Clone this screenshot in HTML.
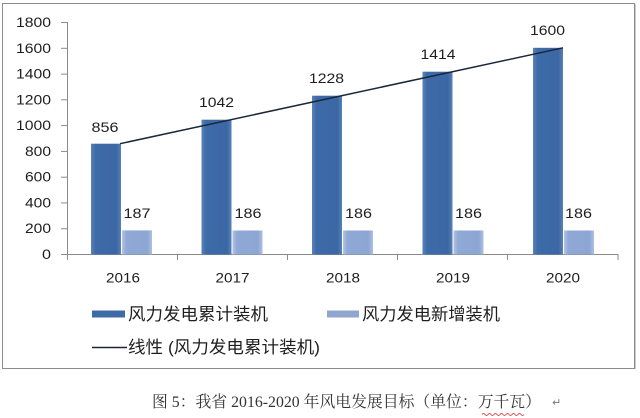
<!DOCTYPE html>
<html>
<head>
<meta charset="utf-8">
<style>
  html,body{margin:0;padding:0;background:#fff;}
  body{width:640px;height:418px;overflow:hidden;}
  svg{display:block;}
</style>
</head>
<body>
<svg width="640" height="418" viewBox="0 0 640 418" xmlns="http://www.w3.org/2000/svg">
  <defs>
    <linearGradient id="gd" x1="0" y1="0" x2="1" y2="0">
      <stop offset="0" stop-color="#5b82b9"/>
      <stop offset="0.15" stop-color="#3d6ba8"/>
      <stop offset="0.85" stop-color="#3b68a5"/>
      <stop offset="1" stop-color="#5a80b6"/>
    </linearGradient>
    <linearGradient id="gl" x1="0" y1="0" x2="1" y2="0">
      <stop offset="0" stop-color="#b3c4e4"/>
      <stop offset="0.15" stop-color="#8fa8d5"/>
      <stop offset="0.85" stop-color="#8da6d3"/>
      <stop offset="1" stop-color="#b0c1e2"/>
    </linearGradient>
  </defs>

  <!-- chart frame -->
  <rect x="2.5" y="3.5" width="632" height="365" fill="#fff" stroke="#8c8c8c" stroke-width="1"/>
  <line x1="635.5" y1="4" x2="635.5" y2="369" stroke="#c8c8c8" stroke-width="1"/>

  <!-- axes -->
  <g stroke="#8a8a8a" stroke-width="1">
    <line x1="67.5" y1="22" x2="67.5" y2="254.5"/>
    <line x1="67" y1="254.5" x2="618.5" y2="254.5"/>
    <line x1="61" y1="22.5" x2="67" y2="22.5"/>
    <line x1="61" y1="48.3" x2="67" y2="48.3"/>
    <line x1="61" y1="74.1" x2="67" y2="74.1"/>
    <line x1="61" y1="99.8" x2="67" y2="99.8"/>
    <line x1="61" y1="125.6" x2="67" y2="125.6"/>
    <line x1="61" y1="151.4" x2="67" y2="151.4"/>
    <line x1="61" y1="177.2" x2="67" y2="177.2"/>
    <line x1="61" y1="202.9" x2="67" y2="202.9"/>
    <line x1="61" y1="228.7" x2="67" y2="228.7"/>
    <line x1="61" y1="254.5" x2="67" y2="254.5"/>
    <line x1="67.5" y1="254" x2="67.5" y2="260"/>
    <line x1="177.5" y1="254" x2="177.5" y2="260"/>
    <line x1="287.5" y1="254" x2="287.5" y2="260"/>
    <line x1="397.5" y1="254" x2="397.5" y2="260"/>
    <line x1="507.5" y1="254" x2="507.5" y2="260"/>
    <line x1="618" y1="254" x2="618" y2="260"/>
  </g>

  <!-- y labels -->
  <g font-family="Liberation Sans, sans-serif" font-size="14" fill="#1e1e1e" text-anchor="end">
    <text x="51" y="27" textLength="35" lengthAdjust="spacingAndGlyphs">1800</text>
    <text x="51" y="52.8" textLength="35" lengthAdjust="spacingAndGlyphs">1600</text>
    <text x="51" y="78.6" textLength="35" lengthAdjust="spacingAndGlyphs">1400</text>
    <text x="51" y="104.3" textLength="35" lengthAdjust="spacingAndGlyphs">1200</text>
    <text x="51" y="130.1" textLength="35" lengthAdjust="spacingAndGlyphs">1000</text>
    <text x="51" y="155.9" textLength="26" lengthAdjust="spacingAndGlyphs">800</text>
    <text x="51" y="181.7" textLength="26" lengthAdjust="spacingAndGlyphs">600</text>
    <text x="51" y="207.4" textLength="26" lengthAdjust="spacingAndGlyphs">400</text>
    <text x="51" y="233.2" textLength="26" lengthAdjust="spacingAndGlyphs">200</text>
    <text x="51" y="259" textLength="9" lengthAdjust="spacingAndGlyphs">0</text>
  </g>

  <!-- bars: cumulative -->
  <g fill="url(#gd)">
    <rect x="91" y="143.7" width="30" height="110.8"/>
    <rect x="201.5" y="119.7" width="30" height="134.8"/>
    <rect x="312" y="95.7" width="30" height="158.8"/>
    <rect x="422.5" y="71.7" width="30" height="182.8"/>
    <rect x="533" y="47.8" width="30" height="206.7"/>
  </g>
  <!-- bars: new -->
  <g fill="url(#gl)">
    <rect x="122" y="230.4" width="30" height="24.1"/>
    <rect x="232.5" y="230.5" width="30" height="24"/>
    <rect x="343" y="230.5" width="30" height="24"/>
    <rect x="453.5" y="230.5" width="30" height="24"/>
    <rect x="564" y="230.5" width="30" height="24"/>
  </g>

  <!-- trend line -->
  <line x1="120" y1="143.7" x2="563" y2="47.8" stroke="#1c2638" stroke-width="1.5"/>

  <!-- value labels -->
  <g font-family="Liberation Sans, sans-serif" font-size="14" fill="#1e1e1e" text-anchor="middle">
    <text x="105" y="132" textLength="27" lengthAdjust="spacingAndGlyphs">856</text>
    <text x="216.5" y="107" textLength="35" lengthAdjust="spacingAndGlyphs">1042</text>
    <text x="326.5" y="83" textLength="35" lengthAdjust="spacingAndGlyphs">1228</text>
    <text x="438" y="59" textLength="35" lengthAdjust="spacingAndGlyphs">1414</text>
    <text x="547.5" y="35" textLength="35" lengthAdjust="spacingAndGlyphs">1600</text>
    <text x="137" y="218" textLength="27" lengthAdjust="spacingAndGlyphs">187</text>
    <text x="248" y="218" textLength="27" lengthAdjust="spacingAndGlyphs">186</text>
    <text x="358.5" y="218" textLength="27" lengthAdjust="spacingAndGlyphs">186</text>
    <text x="468.5" y="218" textLength="27" lengthAdjust="spacingAndGlyphs">186</text>
    <text x="578.5" y="218" textLength="27" lengthAdjust="spacingAndGlyphs">186</text>
  </g>

  <!-- x labels -->
  <g font-family="Liberation Sans, sans-serif" font-size="14" fill="#1e1e1e" text-anchor="middle">
    <text x="123" y="282.5" textLength="34" lengthAdjust="spacingAndGlyphs">2016</text>
    <text x="232.5" y="282.5" textLength="34" lengthAdjust="spacingAndGlyphs">2017</text>
    <text x="343" y="282.5" textLength="34" lengthAdjust="spacingAndGlyphs">2018</text>
    <text x="453" y="282.5" textLength="34" lengthAdjust="spacingAndGlyphs">2019</text>
    <text x="563" y="282.5" textLength="34" lengthAdjust="spacingAndGlyphs">2020</text>
  </g>

  <!-- legend -->
  <rect x="92" y="310.5" width="33" height="7" fill="#3d6ba6"/>
  <rect x="327" y="310.5" width="32" height="7" fill="#8fa6cf"/>
  <line x1="92" y1="347.5" x2="127" y2="347.5" stroke="#1c2638" stroke-width="1.5"/>
  <g font-family="Liberation Sans, 'Noto Sans CJK SC', sans-serif" font-size="17" fill="#1e1e1e">
    <text x="128" y="320" textLength="140" lengthAdjust="spacingAndGlyphs">风力发电累计装机</text>
    <text x="362" y="320" textLength="138" lengthAdjust="spacingAndGlyphs">风力发电新增装机</text>
    <text x="128" y="353" textLength="192" lengthAdjust="spacingAndGlyphs">线性 (风力发电累计装机)</text>
  </g>

  <!-- caption -->
  <text x="152" y="407" font-family="Liberation Serif, 'Noto Serif CJK SC', serif" font-size="16" fill="#333" textLength="389" lengthAdjust="spacingAndGlyphs">图 5：我省 2016-2020 年风电发展目标（单位：万千瓦）</text>
  <text x="552" y="406" font-family="'DejaVu Sans', sans-serif" font-size="11" fill="#777">↵</text>
  <path d="M482 414.5 q1.5 -2 3 0 t3 0 t3 0 t3 0 t3 0 t3 0 t3 0 t3 0 t3 0 t3 0 t3 0 t3 0 t3 0 t3 0" fill="none" stroke="#d9534f" stroke-width="0.9"/>
</svg>
</body>
</html>
